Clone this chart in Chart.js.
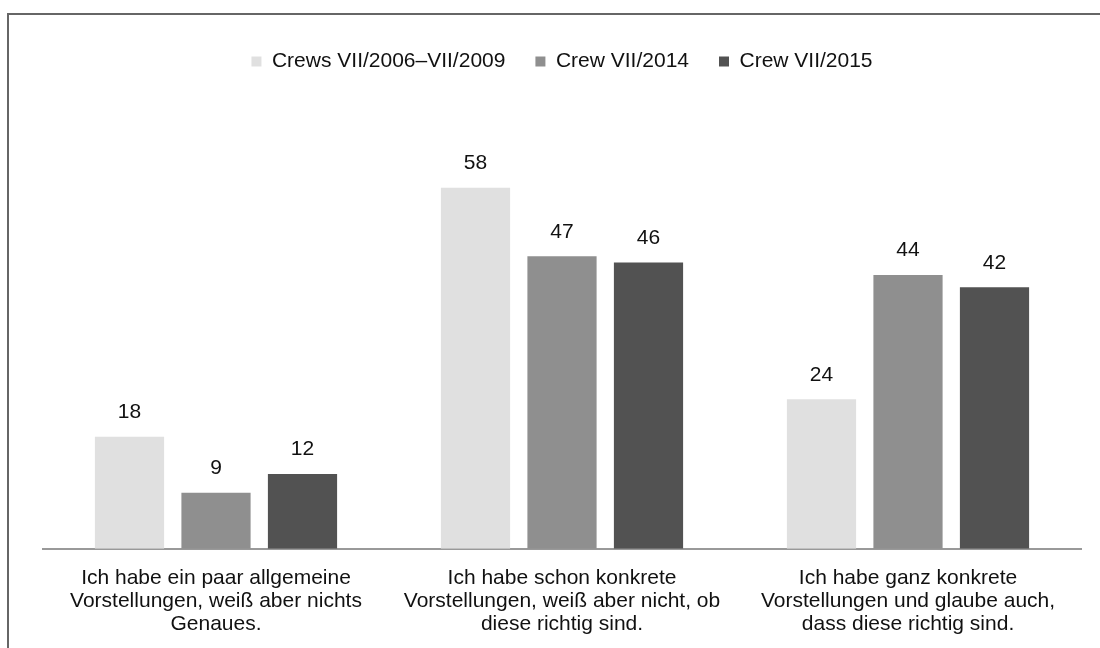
<!DOCTYPE html>
<html>
<head>
<meta charset="utf-8">
<script src="https://cdn.jsdelivr.net/npm/chart.js@4.4.1/dist/chart.umd.min.js"></script>
<style>
    body { margin: 0; background: #fff; }
    #frame { position: absolute; left: 7px; top: 13px; width: 1100px; height: 648px; border-left: 2px solid #666; border-top: 2px solid #666; }
    #wrap { position: absolute; left: 0; top: 0; width: 1100px; height: 648px; }
</style>
</head>
<body>
<div id="frame"></div>
<div id="wrap"><canvas id="myChart" width="1100" height="648"></canvas></div>
<script>
let categories = [
    ['Ich habe ein paar allgemeine', 'Vorstellungen, weiß aber nichts', 'Genaues.'],
    ['Ich habe schon konkrete', 'Vorstellungen, weiß aber nicht, ob', 'diese richtig sind.'],
    ['Ich habe ganz konkrete', 'Vorstellungen und glaube auch,', 'dass diese richtig sind.']
];
let seriesNames = ['Crews VII/2006–VII/2009', 'Crew VII/2014', 'Crew VII/2015'];
let crews2006to2009 = [18, 58, 24];
let crew2014 = [9, 47, 44];
let crew2015 = [12, 46, 42];
let seriesColors = ['#e0e0e0', '#8f8f8f', '#525252'];

// numbers above the bars
const valueLabels = {
    id: 'valueLabels',
    afterDatasetsDraw(chart) {
        let ctx = chart.ctx;
        ctx.save();
        ctx.font = '21px "Liberation Sans", Arial, sans-serif';
        ctx.fillStyle = '#111';
        ctx.textAlign = 'center';
        ctx.textBaseline = 'bottom';
        chart.data.datasets.forEach((ds, i) => {
            chart.getDatasetMeta(i).data.forEach((bar, j) => {
                ctx.fillText(ds.data[j], bar.x, bar.y - 14);
            });
        });
        ctx.restore();
    }
};

const ctx = document.getElementById('myChart').getContext('2d');
const myChart = new Chart(ctx, {
    type: 'bar',
    data: {
        labels: categories,
        datasets: [
            { label: seriesNames[0], data: crews2006to2009, backgroundColor: seriesColors[0] },
            { label: seriesNames[1], data: crew2014, backgroundColor: seriesColors[1] },
            { label: seriesNames[2], data: crew2015, backgroundColor: seriesColors[2] }
        ]
    },
    options: {
        responsive: false,
        animation: false,
        categoryPercentage: 0.75,
        barPercentage: 0.8,
        layout: { padding: { left: 43, right: 19, top: 21, bottom: 2 } },
        plugins: {
            legend: {
                position: 'top',
                labels: {
                    boxWidth: 10,
                    boxHeight: 10,
                    padding: 30,
                    color: '#111',
                    font: { family: '"Liberation Sans", Arial, sans-serif', size: 21 }
                }
            },
            tooltip: { enabled: false }
        },
        scales: {
            x: {
                grid: { display: false },
                border: { display: true, color: '#999', width: 2 },
                ticks: {
                    padding: 10,
                    color: '#111',
                    maxRotation: 0,
                    autoSkip: false,
                    font: { family: '"Liberation Sans", Arial, sans-serif', size: 21, lineHeight: 1.1 }
                }
            },
            y: {
                display: false,
                min: 0,
                max: 75
            }
        }
    },
    plugins: [valueLabels]
});
</script>
</body>
</html>
